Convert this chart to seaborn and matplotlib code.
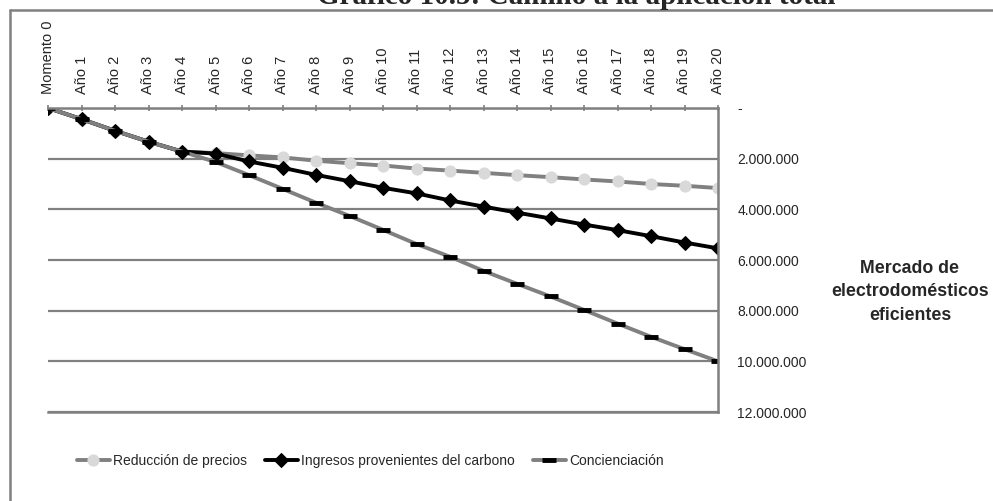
import matplotlib
matplotlib.use("Agg")
import matplotlib.pyplot as plt
import seaborn as sns
import pandas as pd
from matplotlib.lines import Line2D
from matplotlib.ticker import FuncFormatter

# values (millions of appliances)
periodos = ["Momento 0"] + [f"Año {i}" for i in range(1, 21)]
reduccion = [0, 0.44, 0.90, 1.33, 1.72, 1.78, 1.87, 1.95, 2.08, 2.18, 2.27,
             2.39, 2.47, 2.56, 2.65, 2.73, 2.82, 2.90, 3.00, 3.07, 3.16]
ingresos = [0, 0.44, 0.90, 1.33, 1.72, 1.80, 2.11, 2.36, 2.64, 2.89, 3.15,
            3.37, 3.65, 3.89, 4.13, 4.36, 4.60, 4.82, 5.06, 5.31, 5.54]
concienciacion = [0, 0.44, 0.90, 1.33, 1.72, 2.13, 2.65, 3.19, 3.74, 4.26, 4.81,
                  5.37, 5.87, 6.43, 6.94, 7.44, 7.97, 8.51, 9.03, 9.52, 10.0]
series_names = ["Reducción de precios", "Ingresos provenientes del carbono", "Concienciación"]

df = pd.DataFrame({
    "pos": list(range(len(periodos))),
    series_names[0]: [v * 1e6 for v in reduccion],
    series_names[1]: [v * 1e6 for v in ingresos],
    series_names[2]: [v * 1e6 for v in concienciacion],
})

sns.set_style("white")
plt.rcParams['font.family'] = ['Liberation Sans', 'DejaVu Sans']

fig = plt.figure(figsize=(9.93, 5.01), dpi=100)
ax = fig.add_axes([48 / 993, 89 / 501, 670 / 993, 304 / 501])

grey = "#808080"
styles = {
    series_names[0]: dict(color=grey, marker="o", markersize=8, markerfacecolor="#d9d9d9",
                          markeredgecolor="#d9d9d9"),
    series_names[1]: dict(color="black", marker="D", markersize=7, markerfacecolor="black",
                          markeredgecolor="black"),
    series_names[2]: dict(color=grey, marker="_", markersize=10, markeredgewidth=3.5,
                          markeredgecolor="black"),
}
for name in series_names:
    sns.lineplot(data=df, x="pos", y=name, ax=ax, linewidth=2.8, label=name, **styles[name])

ax.set_xlim(0, 20)
ax.set_ylim(12e6, 0)
ax.set_yticks([i * 2e6 for i in range(7)])
ax.yaxis.set_major_formatter(FuncFormatter(
    lambda v, p: "-" if v == 0 else f"{int(v):,}".replace(",", ".")))
ax.yaxis.tick_right()
ax.tick_params(axis="y", length=0, pad=14, labelsize=10)
ax.grid(axis="y", color=grey, linewidth=1.6)
ax.grid(axis="x", visible=False)

ax.xaxis.tick_top()
ax.set_xticks(df["pos"])
ax.set_xticklabels(periodos, rotation=90, fontsize=10.5)
ax.tick_params(axis="x", direction="inout", length=4, color=grey, width=1.2, pad=8)
ax.set_xlabel("")
ax.set_ylabel("")

ax.spines["left"].set_visible(False)
for side in ["top", "right", "bottom"]:
    ax.spines[side].set_color(grey)
    ax.spines[side].set_linewidth(1.8)

ax.get_legend().remove()
handles, labels = ax.get_legend_handles_labels()
fig.legend(handles, labels, loc="center", bbox_to_anchor=(370 / 993, 40 / 501), ncol=3,
           frameon=False, fontsize=10, handlelength=2.4, columnspacing=1.3, handletextpad=0.2)

fig.text(910 / 993, 209 / 501, "Mercado de\nelectrodomésticos\neficientes", ha="center",
         va="center", fontsize=12.8, fontweight="bold", linespacing=1.5)

fig.text(576 / 993, 497 / 501, "Gráfico 10.5: Camino a la aplicación total", ha="center",
         va="baseline", fontsize=21, fontweight="bold", family="Liberation Serif")

# outer chart frame
fig.add_artist(Line2D([10 / 993, 10 / 993], [0, 491 / 501], color=grey, linewidth=1.8))
fig.add_artist(Line2D([10 / 993, 1], [491 / 501, 491 / 501], color=grey, linewidth=1.8))

fig.savefig("out.png", dpi=100)
